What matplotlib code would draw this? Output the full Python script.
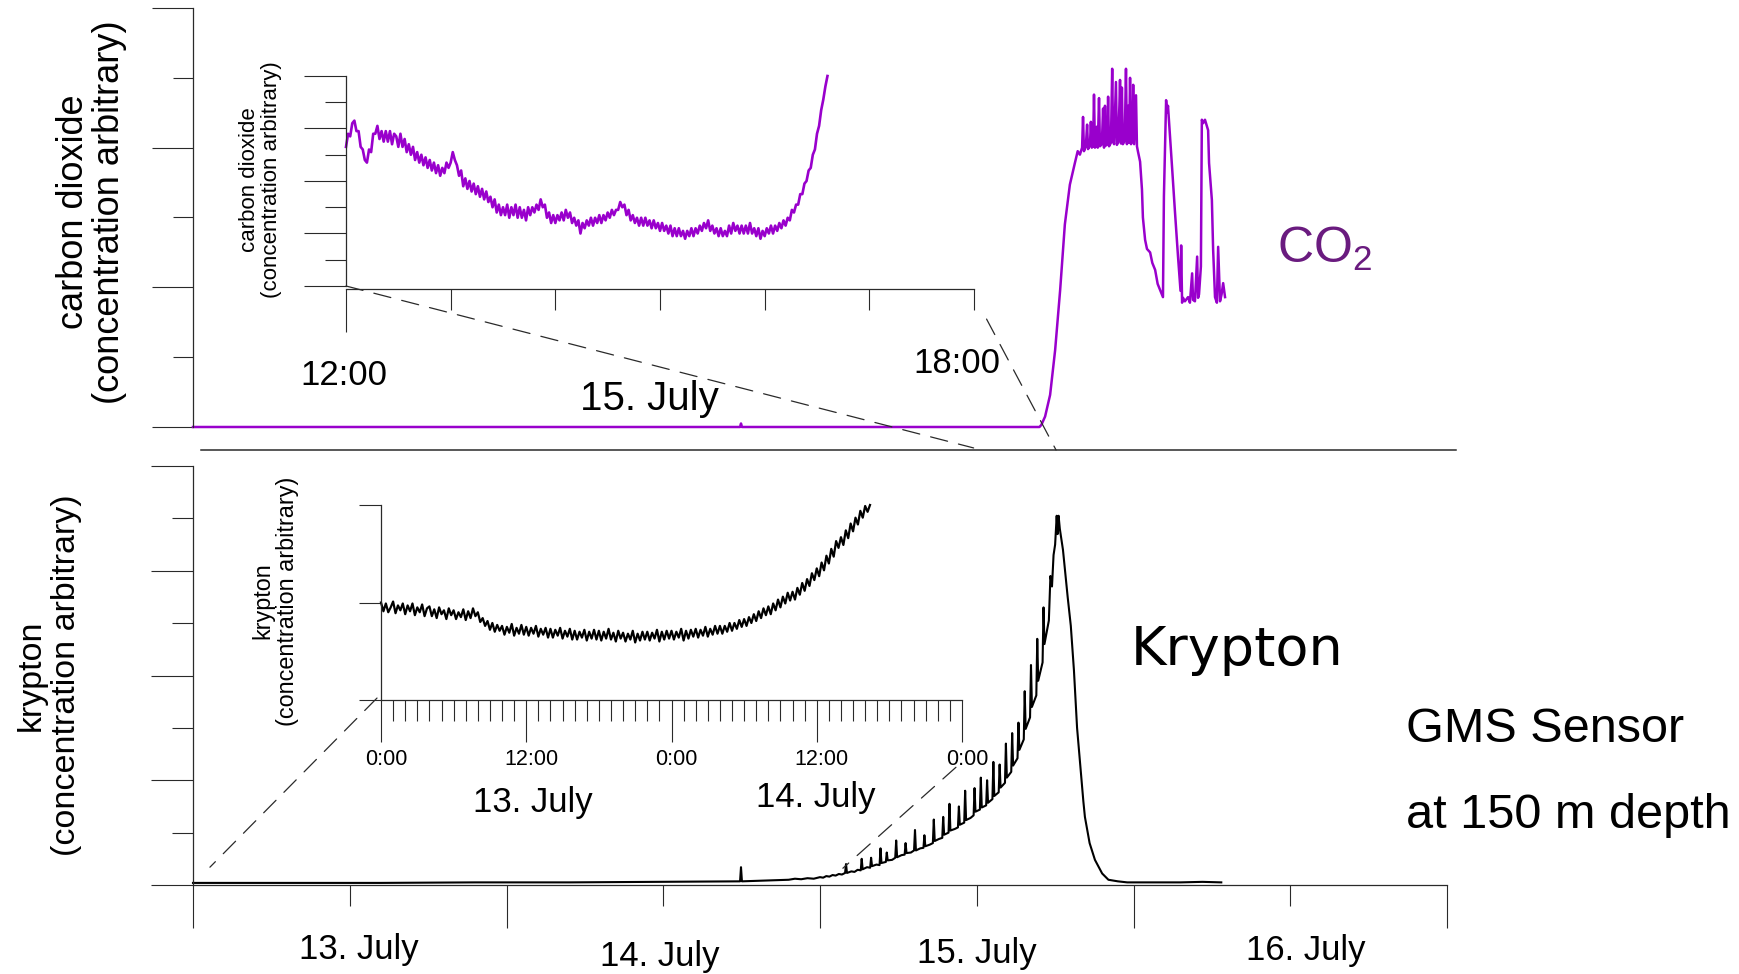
import numpy as np
import matplotlib
matplotlib.use("Agg")
import matplotlib.pyplot as plt
from matplotlib.patches import ConnectionPatch
from matplotlib.transforms import blended_transform_factory

plt.rcParams['font.family'] = ['Liberation Sans', 'DejaVu Sans']
plt.rcParams['mathtext.default'] = 'regular'

# ---------------------------------------------------------------- data
# main CO2 trace: (days since 13 July 0:00, concentration, axis units 0..6)
co2_main_points = [
    (0.00, 0.0), (1.745, 0.0), (1.748, 0.05), (1.751, 0.0), (2.700, 0.0),
    (2.706, 0.03), (2.718, 0.15), (2.734, 0.46), (2.750, 1.10), (2.766, 1.96),
    (2.781, 2.90), (2.797, 3.47), (2.813, 3.78), (2.822, 3.95), (2.829, 3.90),
    (2.836, 4.00), (2.839, 4.44), (2.842, 3.95), (2.848, 4.02), (2.852, 4.33),
    (2.855, 3.98), (2.861, 4.03), (2.864, 4.37), (2.867, 4.00), (2.871, 4.02),
    (2.874, 4.76), (2.877, 4.00), (2.880, 4.05), (2.883, 4.30), (2.886, 4.00),
    (2.890, 4.71), (2.893, 4.02), (2.899, 4.05), (2.903, 4.56), (2.906, 4.00),
    (2.909, 4.60), (2.912, 4.03), (2.916, 4.05), (2.919, 4.73), (2.922, 4.02),
    (2.928, 4.07), (2.932, 5.13), (2.935, 4.10), (2.938, 4.05), (2.944, 4.94),
    (2.947, 4.04), (2.951, 4.08), (2.955, 4.60), (2.957, 4.97), (2.960, 4.06),
    (2.963, 4.86), (2.966, 4.05), (2.972, 4.10), (2.976, 5.13), (2.979, 4.05),
    (2.983, 4.60), (2.986, 4.07), (2.989, 5.00), (2.992, 4.05), (2.996, 4.10),
    (2.999, 4.90), (3.002, 4.05), (3.008, 4.75), (3.011, 4.02), (3.014, 3.95),
    (3.021, 3.80), (3.027, 3.40), (3.030, 3.00), (3.037, 2.68), (3.043, 2.55),
    (3.053, 2.50), (3.060, 2.35), (3.069, 2.25), (3.077, 2.05), (3.085, 1.96),
    (3.094, 1.86), (3.097, 3.30), (3.104, 4.68), (3.107, 4.50), (3.110, 4.60),
    (3.123, 3.72), (3.132, 3.10), (3.142, 2.44), (3.150, 1.95), (3.152, 2.60),
    (3.155, 1.78), (3.158, 1.85), (3.164, 1.80), (3.174, 1.86), (3.180, 1.78),
    (3.187, 2.20), (3.190, 1.82), (3.196, 1.80), (3.203, 2.44), (3.206, 1.85),
    (3.209, 1.90), (3.215, 2.30), (3.218, 4.40), (3.222, 4.35), (3.228, 4.40),
    (3.238, 4.25), (3.241, 3.78), (3.250, 3.25), (3.254, 2.54), (3.260, 1.86),
    (3.266, 1.78), (3.270, 2.58), (3.276, 1.80), (3.281, 1.90), (3.286, 2.06),
    (3.292, 1.86),
]

# main krypton trace: (days since 13 July 0:00, concentration, axis units 0..8)
kr_main_points = [
    (0.00, 0.04), (0.30, 0.04), (0.60, 0.04), (0.90, 0.05), (1.20, 0.05),
    (1.50, 0.06), (1.745, 0.07), (1.748, 0.34), (1.751, 0.07), (1.85, 0.09),
    (1.90, 0.10), (1.92, 0.12), (1.94, 0.11), (1.96, 0.13), (1.98, 0.12),
    (2.00, 0.15), (2.01, 0.14), (2.02, 0.17), (2.03, 0.16), (2.04, 0.19),
    (2.05, 0.18), (2.06, 0.21), (2.07, 0.20), (2.08, 0.23), (2.083, 0.40),
    (2.086, 0.23), (2.10, 0.26), (2.11, 0.25), (2.12, 0.29), (2.13, 0.28),
    (2.133, 0.50), (2.136, 0.30), (2.15, 0.34), (2.16, 0.33), (2.163, 0.52),
    (2.166, 0.36), (2.18, 0.39), (2.19, 0.38), (2.193, 0.70), (2.196, 0.42),
    (2.21, 0.44), (2.213, 0.62), (2.216, 0.47), (2.23, 0.48), (2.24, 0.52),
    (2.243, 0.85), (2.246, 0.53), (2.26, 0.57), (2.27, 0.58), (2.273, 0.80),
    (2.276, 0.61), (2.29, 0.62), (2.30, 0.66), (2.303, 1.05), (2.306, 0.66),
    (2.32, 0.70), (2.33, 0.71), (2.333, 0.95), (2.336, 0.74), (2.35, 0.77),
    (2.36, 0.80), (2.363, 1.25), (2.366, 0.84), (2.38, 0.88), (2.39, 0.90),
    (2.393, 1.30), (2.396, 0.96), (2.41, 1.00), (2.413, 1.55), (2.416, 1.04),
    (2.43, 1.07), (2.44, 1.10), (2.443, 1.50), (2.446, 1.15), (2.46, 1.19),
    (2.463, 1.80), (2.466, 1.24), (2.48, 1.28), (2.49, 1.33), (2.493, 1.85),
    (2.496, 1.40), (2.51, 1.44), (2.513, 2.05), (2.516, 1.48), (2.53, 1.52),
    (2.533, 2.00), (2.536, 1.57), (2.55, 1.64), (2.553, 2.35), (2.556, 1.70),
    (2.57, 1.77), (2.573, 2.30), (2.576, 1.86), (2.59, 1.95), (2.593, 2.70),
    (2.596, 2.05), (2.61, 2.16), (2.613, 2.90), (2.616, 2.28), (2.63, 2.42),
    (2.633, 3.10), (2.636, 2.58), (2.65, 2.78), (2.653, 3.70), (2.656, 2.98),
    (2.67, 3.20), (2.673, 4.20), (2.676, 3.40), (2.69, 3.62), (2.693, 4.70),
    (2.696, 3.90), (2.71, 4.25), (2.713, 5.30), (2.716, 4.60), (2.73, 5.05),
    (2.735, 5.90), (2.74, 5.70), (2.745, 6.30), (2.75, 6.50), (2.755, 7.05),
    (2.758, 6.70), (2.761, 7.05), (2.765, 6.80), (2.775, 6.40), (2.79, 5.50),
    (2.80, 4.95), (2.81, 4.10), (2.82, 3.00), (2.83, 2.30), (2.84, 1.60),
    (2.845, 1.30), (2.86, 0.80), (2.877, 0.48), (2.90, 0.22), (2.92, 0.10),
    (2.95, 0.07), (2.98, 0.05), (3.05, 0.05), (3.15, 0.05), (3.22, 0.06),
    (3.28, 0.05),
]

# CO2 inset (15 July, hours), sampled every 0.02 h from 12:00
co2_inset_start_h = 12.0
co2_inset_step_h = 0.02
co2_inset_values = [
    5.3, 5.8, 5.7, 6.2, 6.3, 5.9, 5.9, 5.3, 5.2, 4.8,
    4.7, 5.2, 5.1, 5.8, 5.8, 6.1, 5.6, 5.9, 5.5, 5.9,
    5.5, 5.9, 5.4, 5.8, 5.7, 5.3, 5.8, 5.3, 5.6, 5.1,
    5.4, 5.0, 5.3, 4.8, 5.1, 4.7, 5.0, 4.6, 4.9, 4.5,
    4.8, 4.4, 4.7, 4.3, 4.6, 4.2, 4.5, 4.3, 4.7, 4.5,
    4.7, 5.1, 4.8, 4.6, 4.2, 4.4, 3.8, 4.1, 3.7, 4.0,
    3.6, 3.9, 3.5, 3.8, 3.4, 3.7, 3.3, 3.6, 3.2, 3.4,
    3.0, 3.3, 2.8, 3.1, 2.7, 3.0, 2.7, 3.1, 2.6, 3.0,
    2.7, 3.1, 2.6, 3.0, 2.6, 2.9, 2.5, 3.0, 2.7, 3.0,
    2.8, 3.1, 2.9, 3.3, 3.0, 3.1, 2.6, 2.8, 2.4, 2.7,
    2.4, 2.7, 2.5, 2.8, 2.5, 2.9, 2.6, 2.8, 2.4, 2.6,
    2.3, 2.5, 2.0, 2.4, 2.2, 2.5, 2.3, 2.6, 2.3, 2.6,
    2.4, 2.7, 2.4, 2.7, 2.5, 2.8, 2.6, 2.9, 2.7, 2.9,
    2.9, 3.2, 3.0, 3.1, 2.7, 2.9, 2.5, 2.7, 2.4, 2.6,
    2.3, 2.6, 2.3, 2.6, 2.3, 2.5, 2.2, 2.5, 2.2, 2.4,
    2.1, 2.4, 2.1, 2.3, 2.0, 2.3, 1.9, 2.2, 1.9, 2.2,
    1.9, 2.1, 1.8, 2.1, 1.9, 2.2, 1.9, 2.2, 2.0, 2.3,
    2.1, 2.4, 2.2, 2.5, 2.1, 2.3, 2.0, 2.2, 1.9, 2.2,
    1.9, 2.1, 1.9, 2.3, 2.0, 2.4, 2.1, 2.3, 2.0, 2.3,
    2.0, 2.3, 2.0, 2.4, 2.0, 2.2, 1.9, 2.2, 1.8, 2.1,
    1.9, 2.2, 2.0, 2.3, 2.0, 2.3, 2.1, 2.4, 2.2, 2.5,
    2.3, 2.6, 2.5, 2.9, 2.8, 3.1, 3.1, 3.5, 3.5, 3.9,
    4.0, 4.4, 4.5, 5.0, 5.2, 5.8, 6.1, 6.7, 7.1, 7.6,
    8.0,
]

# krypton inset (hours since 13 July 0:00), sampled every 0.2 h
kr_inset_start_h = 0.0
kr_inset_step_h = 0.2
kr_inset_values = [
    1.00, 0.91, 0.99, 0.90, 0.95, 1.01, 0.89, 0.97, 0.92, 0.99,
    0.88, 0.97, 0.91, 0.99, 0.87, 0.95, 0.90, 0.98, 0.86, 0.94,
    0.96, 0.86, 0.93, 0.84, 0.95, 0.88, 0.92, 0.83, 0.94, 0.87,
    0.92, 0.83, 0.90, 0.85, 0.93, 0.82, 0.91, 0.84, 0.94, 0.86,
    0.90, 0.80, 0.84, 0.76, 0.81, 0.72, 0.79, 0.70, 0.77, 0.71,
    0.76, 0.67, 0.75, 0.69, 0.78, 0.66, 0.74, 0.68, 0.77, 0.67,
    0.75, 0.66, 0.74, 0.68, 0.76, 0.65, 0.73, 0.67, 0.74, 0.64,
    0.73, 0.64, 0.72, 0.66, 0.74, 0.63, 0.71, 0.65, 0.73, 0.62,
    0.71, 0.62, 0.70, 0.64, 0.72, 0.61, 0.70, 0.63, 0.72, 0.62,
    0.71, 0.61, 0.70, 0.63, 0.73, 0.62, 0.69, 0.60, 0.71, 0.63,
    0.69, 0.60, 0.68, 0.62, 0.71, 0.59, 0.68, 0.61, 0.70, 0.62,
    0.70, 0.61, 0.69, 0.63, 0.72, 0.60, 0.70, 0.62, 0.71, 0.63,
    0.71, 0.62, 0.70, 0.64, 0.73, 0.61, 0.71, 0.63, 0.72, 0.65,
    0.73, 0.64, 0.72, 0.66, 0.75, 0.65, 0.73, 0.67, 0.76, 0.68,
    0.76, 0.68, 0.76, 0.70, 0.79, 0.71, 0.79, 0.73, 0.82, 0.75,
    0.83, 0.76, 0.85, 0.79, 0.88, 0.81, 0.91, 0.84, 0.94, 0.87,
    0.96, 0.88, 0.99, 0.92, 1.03, 0.95, 1.06, 0.99, 1.10, 1.02,
    1.11, 1.03, 1.15, 1.08, 1.20, 1.12, 1.24, 1.17, 1.30, 1.23,
    1.35, 1.27, 1.41, 1.33, 1.48, 1.40, 1.55, 1.47, 1.63, 1.56,
    1.67, 1.59, 1.74, 1.66, 1.81, 1.73, 1.87, 1.80, 1.94, 1.87,
    1.99, 1.93, 2.00,
]

main_day_labels = ['13. July', '14. July', '15. July', '16. July']
co2_inset_hour_labels = ['12:00', '18:00']
co2_inset_day_label = '15. July'
kr_inset_hour_labels = ['0:00', '12:00', '0:00', '12:00', '0:00']
kr_inset_day_labels = ['13. July', '14. July']

PURPLE = '#9900cc'
CO2_TEXT = '#6a1b7f'
SP = '#2a2a2a'

# ---------------------------------------------------------------- figure
W, H = 1739, 974
fig = plt.figure(figsize=(W / 100, H / 100), dpi=100)
PT = 0.72  # points per pixel


def add_ax(x0, y0, x1, y1):
    ax = fig.add_axes([x0 / W, 1 - y1 / H, (x1 - x0) / W, (y1 - y0) / H])
    ax.patch.set_visible(False)
    for s in ('top', 'right'):
        ax.spines[s].set_visible(False)
    for s in ('left', 'bottom'):
        ax.spines[s].set_color(SP)
        ax.spines[s].set_linewidth(0.9)
    ax.tick_params(which='both', labelbottom=False, labelleft=False,
                   direction='out', color=SP, width=0.8)
    return ax


def fy(y):
    return 1 - y / H


ax_kr = add_ax(193, 466, 1447, 885)
ax_co2 = add_ax(193, 8, 193 + 4.04 * 313.5, 427)
ax_ci = add_ax(346, 76, 974, 286)
ax_ki = add_ax(381, 505, 962, 700)

# ---- main krypton panel
t, v = zip(*kr_main_points)
ax_kr.plot(t, v, color='black', lw=1.5, clip_on=False)
ax_kr.set_xlim(0, 4)
ax_kr.set_ylim(0, 8)
ax_kr.set_xticks([0, 1, 2, 3, 4])
ax_kr.set_xticks([0.5, 1.5, 2.5, 3.5], minor=True)
ax_kr.set_yticks([0, 2, 4, 6, 8])
ax_kr.set_yticks([1, 3, 5, 7], minor=True)
ax_kr.tick_params(axis='x', which='major', length=43 * PT)
ax_kr.tick_params(axis='x', which='minor', length=21 * PT)
ax_kr.tick_params(axis='y', which='major', length=42 * PT)
ax_kr.tick_params(axis='y', which='minor', length=21 * PT)

tr = blended_transform_factory(ax_kr.transData, fig.transFigure)
for lab, x, yb in zip(main_day_labels, [0.53, 1.49, 2.50, 3.55], [959, 966, 963, 960]):
    ax_kr.text(x, fy(yb), lab, transform=tr, ha='center', va='baseline', fontsize=25)

# ---- main CO2 panel
t, v = zip(*co2_main_points)
ax_co2.plot(t, v, color=PURPLE, lw=1.8, clip_on=False)
ax_co2.set_xlim(0, 4.04)
ax_co2.set_ylim(0, 6)
ax_co2.set_yticks([0, 2, 4, 6])
ax_co2.set_yticks([1, 3, 5], minor=True)
ax_co2.tick_params(axis='y', which='major', length=41 * PT)
ax_co2.tick_params(axis='y', which='minor', length=20 * PT)
ax_co2.tick_params(axis='x', which='both', bottom=False)
ax_co2.spines['bottom'].set_position(('outward', 23 * PT))
ax_co2.spines['bottom'].set_bounds(0.026, 4.029)
ax_co2.spines['bottom'].set_linewidth(1.1)

# ---- CO2 inset
hours = co2_inset_start_h + co2_inset_step_h * np.arange(len(co2_inset_values))
ax_ci.plot(hours, co2_inset_values, color=PURPLE, lw=1.9, clip_on=False)
ax_ci.set_xlim(12, 18)
ax_ci.set_ylim(0, 8)
ax_ci.set_xticks([12])
ax_ci.set_xticks([13, 14, 15, 16, 17, 18], minor=True)
ax_ci.set_yticks([0, 2, 4, 6, 8])
ax_ci.set_yticks([1, 3, 5, 7], minor=True)
ax_ci.tick_params(axis='x', which='major', length=43 * PT)
ax_ci.tick_params(axis='x', which='minor', length=21 * PT)
ax_ci.tick_params(axis='y', which='major', length=42 * PT)
ax_ci.tick_params(axis='y', which='minor', length=21 * PT)
ax_ci.spines['bottom'].set_position(('outward', 3 * PT))

tr = blended_transform_factory(ax_ci.transData, fig.transFigure)
ax_ci.text(11.98, fy(385), co2_inset_hour_labels[0], transform=tr,
           ha='center', va='baseline', fontsize=25)
ax_ci.text(17.84, fy(373), co2_inset_hour_labels[1], transform=tr,
           ha='center', va='baseline', fontsize=25)
ax_ci.text(14.90, fy(410), co2_inset_day_label, transform=tr,
           ha='center', va='baseline', fontsize=29)

# ---- krypton inset
hours = kr_inset_start_h + kr_inset_step_h * np.arange(len(kr_inset_values))
ax_ki.plot(hours, kr_inset_values, color='black', lw=1.6, clip_on=False)
ax_ki.set_xlim(0, 48)
ax_ki.set_ylim(0, 2)
major_h = [0, 12, 24, 36, 48]
ax_ki.set_xticks(major_h)
ax_ki.set_xticks([h for h in range(49) if h not in major_h], minor=True)
ax_ki.set_yticks([0, 1, 2])
ax_ki.tick_params(axis='x', which='major', length=42 * PT)
ax_ki.tick_params(axis='x', which='minor', length=21 * PT)
ax_ki.tick_params(axis='y', which='major', length=22 * PT)

tr = blended_transform_factory(ax_ki.transData, fig.transFigure)
for lab, h in zip(kr_inset_hour_labels, major_h):
    ax_ki.text(h + 0.4, fy(765), lab, transform=tr, ha='center', va='baseline', fontsize=15.5)
for lab, h, yb in zip(kr_inset_day_labels, [12.56, 35.95], [812, 807]):
    ax_ki.text(h, fy(yb), lab, transform=tr, ha='center', va='baseline', fontsize=25)

# ---- zoom connector lines (dashed)
dash = (0, (14, 9))


def connect(axA, xyA, axB, xyB):
    con = ConnectionPatch(xyA=xyA, coordsA=axA.transData, xyB=xyB, coordsB=axB.transData,
                          linestyle=dash, lw=0.9, color=SP)
    fig.add_artist(con)


connect(ax_ci, (12.0, 0.0), ax_co2, (2.49, -0.30))
connect(ax_ci, (18.12, -1.26), ax_co2, (2.753, -0.33))
connect(ax_ki, (-0.33, 0.02), ax_kr, (0.054, 0.34))
connect(ax_ki, (47.5, -0.69), ax_kr, (2.073, 0.32))

# ---- axis titles
fig.text(91.5 / W, fy(212), 'carbon dioxide\n(concentration arbitrary)', rotation=90,
         ha='center', va='center', multialignment='center', fontsize=26, linespacing=1.07)
fig.text(48.5 / W, fy(675), 'krypton\n(concentration arbitrary)', rotation=90,
         ha='center', va='center', multialignment='center', fontsize=24.5, linespacing=1.18)
fig.text(260.5 / W, fy(180), 'carbon dioxide\n(concentration arbitrary)', rotation=90,
         ha='center', va='center', multialignment='center', fontsize=16, linespacing=1.12)
fig.text(275 / W, fy(601), 'krypton\n(concentration arbitrary)', rotation=90,
         ha='center', va='center', multialignment='center', fontsize=16.8, linespacing=1.1)

# ---- annotations
fig.text(1277 / W, fy(263), r'CO$_2$', color=CO2_TEXT, fontsize=36, ha='left', va='baseline')
fig.text(1131 / W, fy(665), 'Krypton', fontsize=39, family='DejaVu Sans',
         ha='left', va='baseline')
fig.text(1406 / W, fy(742), 'GMS Sensor', fontsize=35, ha='left', va='baseline')
fig.text(1406 / W, fy(828), 'at 150 m depth', fontsize=35, ha='left', va='baseline')

fig.savefig('out.png', dpi=100, facecolor='white')
